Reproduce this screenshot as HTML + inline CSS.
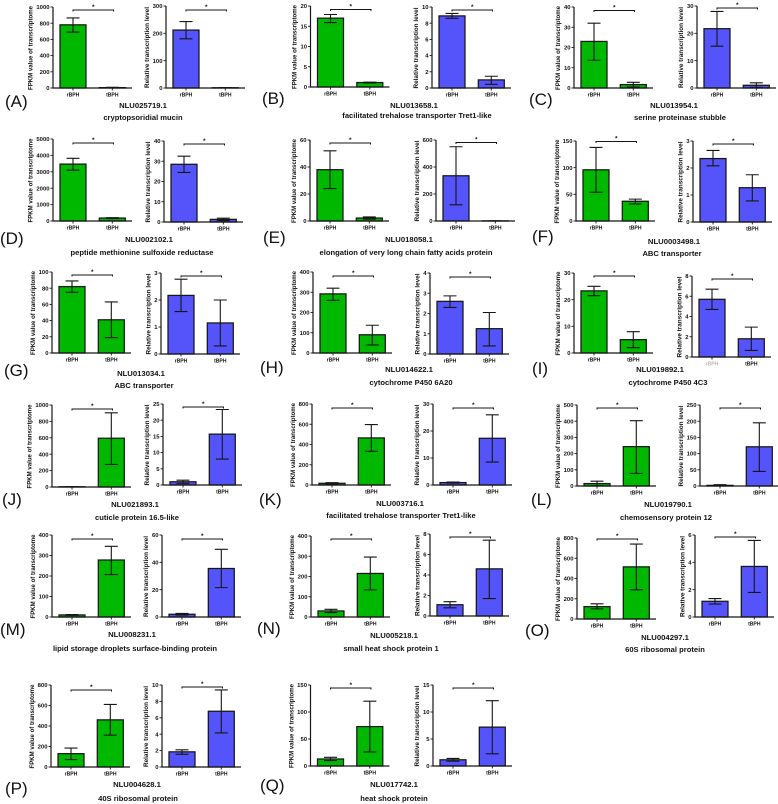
<!DOCTYPE html>
<html lang="en">
<head>
<meta charset="utf-8">
<title>Transcript expression panels</title>
<style>
html,body{margin:0;padding:0;background:#fff;width:778px;height:804px;overflow:hidden}
svg{display:block;filter:blur(.35px)}
text{font-family:"Liberation Sans",Arial,sans-serif;fill:#111}
.panel{font-size:17px;font-weight:400}
.gene{font-size:7.7px;font-weight:700;text-anchor:middle}
.name{font-size:7.6px;font-weight:700;text-anchor:middle}
</style>
</head>
<body>
<svg id="figure" width="778" height="804" viewBox="0 0 778 804" xmlns="http://www.w3.org/2000/svg">
<rect width="778" height="804" fill="#fff"/>
<g id="charts"></g>

<text class="panel" x="5" y="107">(A)</text>
<text class="gene" x="143" y="108">NLU025719.1</text>
<text class="name" x="143" y="120">cryptopsoridial mucin</text>

<text class="panel" x="262" y="104">(B)</text>
<text class="gene" x="414" y="108">NLU013658.1</text>
<text class="name" x="417" y="118">facilitated trehalose transporter Tret1-like</text>

<text class="panel" x="529" y="105">(C)</text>
<text class="gene" x="674" y="108">NLU013954.1</text>
<text class="name" x="680" y="120">serine proteinase stubble</text>

<text class="panel" x="0" y="244">(D)</text>
<text class="gene" x="149" y="242">NLU002102.1</text>
<text class="name" x="142" y="255">peptide methionine sulfoxide reductase</text>

<text class="panel" x="263" y="243">(E)</text>
<text class="gene" x="409" y="242">NLU018058.1</text>
<text class="name" x="406" y="255">elongation of very long chain fatty acids protein</text>

<text class="panel" x="532" y="242">(F)</text>
<text class="gene" x="674" y="244">NLU0003498.1</text>
<text class="name" x="672" y="256">ABC transporter</text>

<text class="panel" x="4" y="376">(G)</text>
<text class="gene" x="141" y="376">NLU013034.1</text>
<text class="name" x="144" y="388">ABC transporter</text>

<text class="panel" x="260" y="373">(H)</text>
<text class="gene" x="409" y="372">NLU014622.1</text>
<text class="name" x="411" y="385">cytochrome P450 6A20</text>

<text class="panel" x="532" y="374">(I)</text>
<text class="gene" x="660" y="372">NLU019892.1</text>
<text class="name" x="668" y="385">cytochrome P450 4C3</text>

<text class="panel" x="2" y="505">(J)</text>
<text class="gene" x="135" y="507">NLU021893.1</text>
<text class="name" x="137" y="520">cuticle protein 16.5-like</text>

<text class="panel" x="259" y="505">(K)</text>
<text class="gene" x="400" y="506">NLU003716.1</text>
<text class="name" x="401" y="518">facilitated trehalose transporter Tret1-like</text>

<text class="panel" x="531" y="505">(L)</text>
<text class="gene" x="668" y="507">NLU019790.1</text>
<text class="name" x="666" y="520">chemosensory protein 12</text>

<text class="panel" x="0" y="635">(M)</text>
<text class="gene" x="132" y="637">NLU008231.1</text>
<text class="name" x="135" y="651">lipid storage droplets surface-binding protein</text>

<text class="panel" x="257" y="634">(N)</text>
<text class="gene" x="394" y="638">NLU005218.1</text>
<text class="name" x="391" y="651">small heat shock protein 1</text>

<text class="panel" x="525" y="636">(O)</text>
<text class="gene" x="665" y="640">NLU004297.1</text>
<text class="name" x="665" y="652">60S ribosomal protein</text>

<text class="panel" x="5" y="794">(P)</text>
<text class="gene" x="137" y="787">NLU004628.1</text>
<text class="name" x="138" y="801">40S ribosomal protein</text>

<text class="panel" x="260" y="791">(Q)</text>
<text class="gene" x="394" y="787">NLU017742.1</text>
<text class="name" x="394" y="801">heat shock protein</text>
</svg>

<script>
// Panel order: A B C D E F G H I J K L M N O P Q
const panelKeys = ['a','b','c','d','e','f','g','h','i','j','k','l','m','n','o','p','q'];
const categories = ['rBPH','tBPH'];
const fpkmAxisTitle = 'FPKM value of transcriptome';
const relAxisTitle = 'Relative transcription level';

// FPKM (green) series: [rBPH, tBPH]
const fpkmMeans = [[780,5],[17,1.1],[23,1.7],[3470,180],[38,2.2],[96,37],[82,41],[292,90],[23.3,5],[3,595],[17,465],[15,243],[10,278],[30,215],[122,515],[130,460],[13,73]];
const fpkmUpper = [[865,8],[17.9,1.2],[32,2.8],[3820,200],[52,3],[138,41],[89,63],[320,137],[25,8],[4,905],[23,597],[30,403],[12,345],[38,296],[150,740],[185,610],[16,120]];
const fpkmLower = [[690,2],[15.9,1.0],[13.7,0.5],[3100,150],[24,1.4],[54,32],[75,19],[260,40],[21.5,2],[2,275],[11,333],[2,78],[8,207],[22,134],[100,288],[72,310],[10,26]];
const fpkmTicks = [[0,200,400,600,800,1000],[0,5,10,15,20],[0,10,20,30,40],[0,1000,2000,3000,4000,5000],[0,20,40,60],[0,50,100,150],[0,20,40,60,80,100],[0,100,200,300,400],[0,10,20,30],[0,200,400,600,800,1000],[0,200,400,600,800],[0,100,200,300,400,500],[0,100,200,300,400],[0,100,200,300,400],[0,200,400,600,800],[0,200,400,600,800],[0,50,100,150]];

// Relative transcription (blue) series: [rBPH, tBPH]
const relMeans = [[212,1],[8.9,1],[21.7,1],[28.5,1.3],[335,1],[2.35,1.27],[2.17,1.15],[2.6,1.25],[5.7,1.8],[1,15.7],[0.9,17.3],[2,121],[2,35.5],[1.1,4.6],[1.15,3.7],[1.85,6.8],[1.15,7.2]];
const relUpper = [[243,1.5],[9.2,1.45],[28,1.9],[32.5,1.9],[550,1.5],[2.65,1.75],[2.77,2],[2.87,2.05],[6.7,2.95],[1.5,23.3],[1.1,26],[4,195],[2.6,49.5],[1.4,7.4],[1.35,5.6],[2.1,9.4],[1.4,12.1]];
const relLower = [[180,0.5],[8.6,0.45],[15.3,0.2],[24.5,0.7],[120,0.5],[2.08,0.78],[1.57,0.3],[2.3,0.4],[4.7,0.65],[0.5,8],[0.7,8.5],[0,45],[1.4,21.5],[0.8,1.7],[0.95,1.8],[1.55,4.15],[0.9,2.25]];
const relTicks = [[0,100,200,300],[0,2,4,6,8,10],[0,10,20,30],[0,10,20,30,40],[0,200,400,600],[0,1,2,3],[0,1,2,3],[0,1,2,3,4],[0,2,4,6,8],[0,5,10,15,20,25],[0,10,20,30],[0,50,100,150,200,250],[0,20,40,60],[0,2,4,6,8],[0,2,4,6],[0,2,4,6,8,10],[0,5,10,15]];

// Plot frames (not data): [axisX, plotTop, plotBottom, bracketY]
const fpkmFrames = [[53,7,88,10],[310.5,6,87,9.5],[574,7,88,10.5],[53,139,221,143],[310,140,221,143],[576,141,221,141.5],[52,272,353,275],[313,272,353,276],[574,273,353,276],[52,405,487,409],[312,404,485,408],[577,405,486,408],[52,535,617,539],[311,536,617,539],[577,538,619,539],[51,685,767,690],[310.5,685,766,688]];
const relFrames = [[166,6,88,10],[432,7,88,10],[697,6,88,8],[164,141,222,144],[436,140,221,142.5],[693,141,222,144],[161,273,354,276],[430,273,354,277],[692,276,357,279],[163,404,485,407],[433,404,485,408],[700,405,486,408],[162,535,617,539],[430,534,616,537],[695,535,617,537],[162,685,767,687],[433,685,766,688]];

const SVG_NS = 'http://www.w3.org/2000/svg';
const INK = '#161616';
const root = document.getElementById('charts');

function make(parent, tag, attrs, content) {
  const node = document.createElementNS(SVG_NS, tag);
  for (const k in attrs) node.setAttribute(k, attrs[k]);
  if (content !== undefined) node.textContent = content;
  parent.appendChild(node);
  return node;
}
function yAxisScale(frame, ticks) {
  const max = ticks[ticks.length - 1];
  return v => frame[2] - (v / max) * (frame[2] - frame[1]);
}
function xBarLeft(frame, idx) {
  return frame[0] + 7 + idx * 39.3;
}

function drawChart(key, kind, frame, means, upper, lower, ticks, fill, axisTitle, titleLen) {
  const y = yAxisScale(frame, ticks);
  const g = make(root, 'g', {});
  
  

  means.forEach((m, i) => {
    const left = xBarLeft(frame, i);
    const bar = make(g, 'rect', {x:left, y:y(m), width:26, height:Math.max(frame[2]-y(m),0), fill:fill, stroke:INK, 'stroke-width':1.25});
    
    
    const cx = left + 13;
    const err = make(g, 'path', {d:`M${cx-6.5} ${y(upper[i])}H${cx+6.5}M${cx} ${y(upper[i])}V${y(lower[i])}M${cx-6.5} ${y(lower[i])}H${cx+6.5}`, fill:'none', stroke:INK, 'stroke-width':1.1});
    
    
    const tk = make(g, 'line', {x1:cx, x2:cx, y1:frame[2], y2:frame[2]+2.5, stroke:INK, 'stroke-width':0.9});
    
    
    const faded = key === 'i' && kind === 'relative' && i === 0;
    const lab = make(g, 'text', {x:cx, y:frame[2]+8.5, 'text-anchor':'middle', 'font-size':5.1, 'font-weight':700, opacity: faded ? 0.3 : 1}, categories[i]);
    
    
  });

  const axis = make(g, 'path', {d:`M${frame[0]} ${frame[1]}V${frame[2]}H${frame[0]+79}`, fill:'none', stroke:INK, 'stroke-width':1.2});
  
  

  ticks.forEach(t => {
    const tk = make(g, 'line', {x1:frame[0]-2.5, x2:frame[0], y1:y(t), y2:y(t), stroke:INK, 'stroke-width':0.9});
    
    
    const lab = make(g, 'text', {x:frame[0]-3.5, y:y(t)+2.1, 'text-anchor':'end', 'font-size':5.9, 'font-weight':700}, String(t));
    
    
  });

  const digits = String(ticks[ticks.length - 1]).length;
  const titleX = frame[0] - (7 + 3.4 * digits);
  const titleY = (frame[1] + frame[2]) / 2 + 0.5;
  const title = make(g, 'text', {x:0, y:0, transform:`translate(${titleX} ${titleY}) rotate(-90)`, 'text-anchor':'middle', 'font-size':6.1, 'font-weight':700, textLength:titleLen, lengthAdjust:'spacingAndGlyphs'}, axisTitle);
  
  

  const bx0 = frame[0] + 20, bx1 = frame[0] + 60.5, by = frame[3];
  const bracket = make(g, 'path', {d:`M${bx0} ${by+1.5}V${by}H${bx1}V${by+1.5}`, fill:'none', stroke:INK, 'stroke-width':1});
  
  
  const star = make(g, 'text', {x:(bx0+bx1)/2, y:by-1, 'text-anchor':'middle', 'font-size':6.5, 'font-weight':700}, '*');
  
  
}

panelKeys.forEach((key, i) => {
  drawChart(key, 'fpkm', fpkmFrames[i], fpkmMeans[i], fpkmUpper[i], fpkmLower[i], fpkmTicks[i], '#00b800', fpkmAxisTitle, 84);
  drawChart(key, 'relative', relFrames[i], relMeans[i], relUpper[i], relLower[i], relTicks[i], '#5454fa', relAxisTitle, 81);
});
</script>
</body>
</html>
